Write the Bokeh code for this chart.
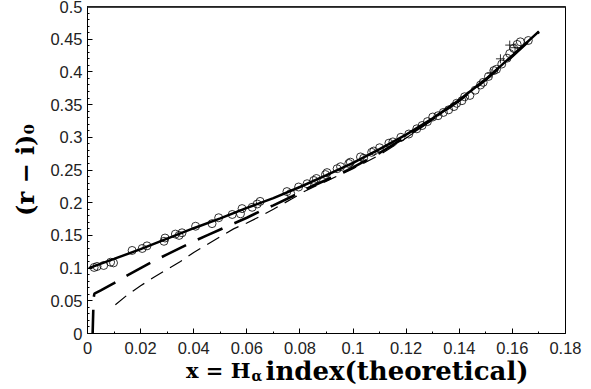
from bokeh.plotting import figure
from bokeh.layouts import column
from bokeh.models import Range1d, FixedTicker, Span
from bokeh.core.properties import value
from bokeh.embed import file_html
from bokeh.resources import INLINE

# ---- data ----
x_ticks = [0, 0.02, 0.04, 0.06, 0.08, 0.1, 0.12, 0.14, 0.16, 0.18]
x_tick_labels = ["0", "0.02", "0.04", "0.06", "0.08", "0.1", "0.12", "0.14", "0.16", "0.18"]
y_ticks = [0, 0.05, 0.1, 0.15, 0.2, 0.25, 0.3, 0.35, 0.4, 0.45, 0.5]
y_tick_labels = ["0", "0.05", "0.1", "0.15", "0.2", "0.25", "0.3", "0.35", "0.4", "0.45", "0.5"]
x_minor = [0.01, 0.03, 0.05, 0.07, 0.09, 0.11, 0.13, 0.15, 0.17]
y_minor = [0.01, 0.02, 0.03, 0.04, 0.06, 0.07, 0.08, 0.09, 0.11, 0.12, 0.13, 0.14,
           0.16, 0.17, 0.18, 0.19, 0.21, 0.22, 0.23, 0.24, 0.26, 0.27, 0.28, 0.29,
           0.31, 0.32, 0.33, 0.34, 0.36, 0.37, 0.38, 0.39, 0.41, 0.42, 0.43, 0.44,
           0.46, 0.47, 0.48, 0.49]
y_label = "(r \u2212 i)\u2080"
x_label_parts = ["x = H", "\u03b1", "index(theoretical)"]

# solid fit curve
solid_x = [0.0005, 0.01, 0.02, 0.03, 0.04, 0.05, 0.06, 0.07, 0.08, 0.09, 0.10,
           0.11, 0.12, 0.13, 0.14, 0.15, 0.16, 0.17]
solid_y = [0.100, 0.114, 0.129, 0.145, 0.161, 0.176, 0.192, 0.207, 0.224, 0.242,
           0.261, 0.282, 0.304, 0.329, 0.357, 0.389, 0.425, 0.462]

# long dashed (thick) curve
ldash_x = [0.0019, 0.0023, 0.0026, 0.005, 0.01, 0.015, 0.02, 0.025, 0.03, 0.035,
           0.04, 0.045, 0.05, 0.055, 0.06, 0.065, 0.07, 0.077, 0.085, 0.095, 0.10,
           0.11, 0.12, 0.13, 0.14, 0.15, 0.16, 0.17]
ldash_y = [-0.005, 0.054, 0.061, 0.066, 0.077, 0.089, 0.100, 0.111, 0.121, 0.131,
           0.141, 0.150, 0.159, 0.168, 0.177, 0.187, 0.196, 0.2095, 0.226, 0.244,
           0.254, 0.276, 0.301, 0.328, 0.356, 0.388, 0.424, 0.461]

# short dashed (thin) curve
sdash_x = [0.0105, 0.015, 0.02, 0.025, 0.03, 0.035, 0.04, 0.045, 0.05, 0.055,
           0.06, 0.065, 0.07, 0.077, 0.082, 0.09, 0.10, 0.11, 0.12, 0.13, 0.14,
           0.15, 0.16, 0.165]
sdash_y = [0.044, 0.059, 0.073, 0.086, 0.098, 0.110, 0.124, 0.136, 0.148, 0.160,
           0.169, 0.179, 0.190, 0.206, 0.218, 0.233, 0.252, 0.273, 0.299, 0.327,
           0.356, 0.389, 0.425, 0.445]

# data points (circles)
pts_x = [0.0025, 0.0036, 0.0061, 0.0087, 0.0098, 0.0168, 0.0206, 0.0224, 0.0288,
         0.0292, 0.0331, 0.0345, 0.0356, 0.0407, 0.0469, 0.0494, 0.0545, 0.0576,
         0.0582, 0.062, 0.0639, 0.065, 0.0751, 0.0765, 0.0795, 0.0827, 0.0852,
         0.0862, 0.0896, 0.0902, 0.094, 0.0953, 0.0984, 0.099, 0.1028, 0.104,
         0.107, 0.1078, 0.110, 0.1135, 0.115, 0.118, 0.121, 0.124, 0.126, 0.128,
         0.130, 0.132, 0.134, 0.136, 0.138, 0.139, 0.141, 0.142, 0.144, 0.146,
         0.148, 0.149, 0.151, 0.153, 0.154, 0.156, 0.158, 0.159, 0.1605, 0.1618,
         0.163, 0.166]
pts_y = [0.101, 0.1025, 0.104, 0.109, 0.108, 0.127, 0.130, 0.134, 0.141, 0.146,
         0.152, 0.150, 0.154, 0.164, 0.168, 0.177, 0.182, 0.183, 0.191, 0.193,
         0.198, 0.202, 0.217, 0.214, 0.224, 0.229, 0.234, 0.237, 0.243, 0.246,
         0.252, 0.255, 0.260, 0.262, 0.270, 0.268, 0.277, 0.279, 0.284, 0.291,
         0.293, 0.300, 0.305, 0.313, 0.318, 0.324, 0.331, 0.333, 0.338, 0.342,
         0.347, 0.352, 0.356, 0.362, 0.364, 0.372, 0.380, 0.384, 0.393, 0.402,
         0.404, 0.412, 0.421, 0.428, 0.436, 0.442, 0.446, 0.448]

# crosses near the upper end
cross_x = [0.152, 0.1555, 0.159, 0.161]
cross_y = [0.398, 0.420, 0.441, 0.437]

# ---- main figure ----
p = figure(width=591, height=360, output_backend="svg", toolbar_location=None,
           x_range=Range1d(0, 0.18), y_range=Range1d(0, 0.5),
           min_border_left=87, min_border_right=26, min_border_top=6,
           min_border_bottom=27)
p.background_fill_color = "white"
p.border_fill_color = "white"
p.grid.visible = False
p.outline_line_color = "black"
p.outline_line_width = 1

p.xaxis.ticker = FixedTicker(ticks=x_ticks, minor_ticks=x_minor)
p.yaxis.ticker = FixedTicker(ticks=y_ticks, minor_ticks=y_minor)
p.xaxis.major_label_overrides = {t: l for t, l in zip(x_ticks, x_tick_labels)}
p.yaxis.major_label_overrides = {t: l for t, l in zip(y_ticks, y_tick_labels)}
for ax in (p.xaxis, p.yaxis):
    ax.major_tick_in = 5
    ax.major_tick_out = 0
    ax.minor_tick_in = 2
    ax.minor_tick_out = 0
    ax.axis_line_color = "black"
    ax.major_tick_line_color = "black"
    ax.minor_tick_line_color = "black"
    ax.major_label_text_font = "Liberation Sans"
    ax.major_label_text_font_size = "16.5px"
    ax.major_label_text_color = "#222222"
p.xaxis.major_label_standoff = 8
p.yaxis.major_label_standoff = 5
p.yaxis.axis_label = y_label
p.yaxis.axis_label_text_font = "DejaVu Serif"
p.yaxis.axis_label_text_font_style = "bold"
p.yaxis.axis_label_text_font_size = "24px"
p.yaxis.axis_label_text_color = "black"
p.yaxis.axis_label_standoff = 7

p.add_layout(Span(location=0.5, dimension="width", line_color="#444444", line_width=3))

p.line(solid_x, solid_y, line_color="black", line_width=2.5)
p.line(ldash_x, ldash_y, line_color="black", line_width=2.6, line_dash="27 13")
p.line(sdash_x, sdash_y, line_color="black", line_width=1.2, line_dash="14 8")
p.scatter(pts_x, pts_y, marker="circle", size=8, fill_color=None,
          line_color="black", line_width=0.8)
p.scatter(cross_x, cross_y, marker="cross", size=9, line_color="black", line_width=0.8)

# ---- strip below holding the x-axis title ----
# its frame is aligned with the main frame (x pixels 87..565), so the
# range is given in page pixels
q = figure(width=591, height=29, output_backend="svg", toolbar_location=None,
           x_range=Range1d(87, 565), y_range=Range1d(389, 360),
           x_axis_type=None, y_axis_type=None,
           min_border_left=87, min_border_right=26, min_border_top=0,
           min_border_bottom=0)
q.grid.visible = False
q.outline_line_color = None
q.background_fill_color = "white"
q.border_fill_color = "white"
font = value("DejaVu Serif")
q.text(x=[250], y=[370], text=[x_label_parts[0]], text_align="right",
       text_baseline="alphabetic", text_font=font, text_font_style="bold",
       text_font_size="21px", text_color="black")
q.text(x=[251], y=[375], text=[x_label_parts[1]], text_align="left",
       text_baseline="alphabetic", text_font=font, text_font_style="bold",
       text_font_size="14px", text_color="black")
q.text(x=[265], y=[370], text=[x_label_parts[2]], text_align="left",
       text_baseline="alphabetic", text_font=font, text_font_style="bold",
       text_font_size="26px", text_color="black")

layout = column(p, q, spacing=0)
open("out.html", "w").write(file_html(layout, INLINE))
